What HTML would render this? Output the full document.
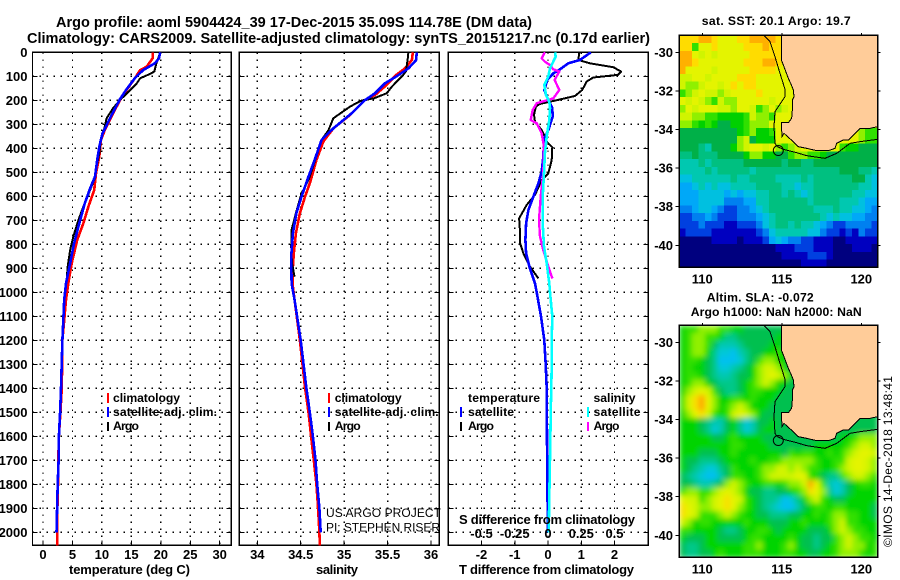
<!DOCTYPE html>
<html>
<head>
<meta charset="utf-8">
<title>Argo profile 5904424_39</title>
<style>
html,body{margin:0;padding:0;background:#fff;}
svg{display:block;font-family:"Liberation Sans",sans-serif;}
text{fill:#000;}
.b{font-weight:bold;font-size:13px;}
.l{font-weight:bold;font-size:12.2px;}
.t{font-weight:bold;font-size:14.5px;}
.r{font-size:12px;}
</style>
</head>
<body>
<svg id="chart" xmlns="http://www.w3.org/2000/svg" width="900" height="580" viewBox="0 0 900 580">
<defs>
<clipPath id="clipP1"><rect x="32" y="52" width="200" height="494"/></clipPath>
<clipPath id="clipP2"><rect x="239" y="52" width="201" height="494"/></clipPath>
<clipPath id="clipP3"><rect x="448" y="52" width="201" height="494"/></clipPath>
<clipPath id="clipM1"><rect x="679" y="35" width="199" height="232"/></clipPath>
<clipPath id="clipM2"><rect x="679" y="325" width="199" height="232"/></clipPath>
<filter id="soft" x="-5%" y="-5%" width="110%" height="110%"><feGaussianBlur stdDeviation="2.6" edgeMode="duplicate"/></filter>
</defs>

<text class="t" x="56" y="27" textLength="476" lengthAdjust="spacing">Argo profile: aoml 5904424_39 17-Dec-2015 35.09S 114.78E (DM data)</text>
<text class="t" x="27" y="43" textLength="623" lengthAdjust="spacing">Climatology: CARS2009. Satellite-adjusted climatology: synTS_20151217.nc (0.17d earlier)</text>

<g id="p1"></g>
<g id="p2"></g>
<g id="p3"></g>
<g id="m1"></g>
<g id="m2"></g>

<text class="b" x="69" y="574" textLength="121" lengthAdjust="spacing">temperature (deg C)</text>
<text class="b" x="316" y="574" textLength="42" lengthAdjust="spacing">salinity</text>
<text class="b" x="459" y="574" textLength="175" lengthAdjust="spacing">T difference from climatology</text>
<text class="b" x="459" y="524" textLength="176" lengthAdjust="spacing">S difference from climatology</text>

<g>
<rect x="107" y="393" width="2" height="10" fill="#f00"/>
<text class="l" x="113" y="402" textLength="67" lengthAdjust="spacing">climatology</text>
<rect x="107" y="407" width="2" height="10" fill="#00f"/>
<text class="l" x="113" y="416" textLength="104" lengthAdjust="spacing">satellite-adj. clim.</text>
<rect x="107" y="422" width="2" height="9" fill="#000"/>
<text class="l" x="113" y="430" textLength="26" lengthAdjust="spacing">Argo</text>
</g>
<g>
<rect x="328" y="393" width="2" height="10" fill="#f00"/>
<text class="l" x="334.7" y="402" textLength="67" lengthAdjust="spacing">climatology</text>
<rect x="328" y="407" width="2" height="10" fill="#00f"/>
<text class="l" x="334.7" y="416" textLength="104" lengthAdjust="spacing">satellite-adj. clim.</text>
<rect x="328" y="422" width="2" height="9" fill="#000"/>
<text class="l" x="334.7" y="430" textLength="26" lengthAdjust="spacing">Argo</text>
</g>
<g>
<text class="l" x="468" y="402" textLength="72" lengthAdjust="spacing">temperature</text>
<rect x="460" y="407" width="2" height="10" fill="#00f"/>
<text class="l" x="468" y="416" textLength="46" lengthAdjust="spacing">satellite</text>
<rect x="460" y="422" width="2" height="9" fill="#000"/>
<text class="l" x="468" y="430" textLength="26" lengthAdjust="spacing">Argo</text>
<text class="l" x="593.5" y="402" textLength="42" lengthAdjust="spacing">salinity</text>
<rect x="587" y="407" width="2" height="10" fill="#0ff"/>
<text class="l" x="593.5" y="416" textLength="47" lengthAdjust="spacing">satellite</text>
<rect x="587" y="422" width="2" height="9" fill="#f0f"/>
<text class="l" x="593.5" y="430" textLength="26" lengthAdjust="spacing">Argo</text>
</g>

<text class="r" x="326" y="517" textLength="115" lengthAdjust="spacing">US ARGO PROJECT</text>
<text class="r" x="326" y="531.5" textLength="114" lengthAdjust="spacing">PI: STEPHEN RISER</text>

<text class="l" x="701.7" y="25" textLength="149" lengthAdjust="spacing">sat. SST: 20.1 Argo: 19.7</text>
<text class="l" x="706.7" y="301.5" textLength="107" lengthAdjust="spacing">Altim. SLA: -0.072</text>
<text class="l" x="690.7" y="316" textLength="171" lengthAdjust="spacing">Argo h1000: NaN h2000: NaN</text>
<text class="r" transform="translate(892,547) rotate(-90)" textLength="171" lengthAdjust="spacing">©IMOS 14-Dec-2018 13:48:41</text>
</svg>

<script>
// ---- axis tick values ----
const depthTicks = [0,100,200,300,400,500,600,700,800,900,1000,1100,1200,1300,1400,1500,1600,1700,1800,1900,2000];
const tempTicks = [0,5,10,15,20,25,30];
const salTicks = [34,34.5,35,35.5,36];
const tDiffTicks = [-2,-1,0,1,2];
const sDiffTicks = [-0.5,-0.25,0,0.25,0.5];
const sDiffLabels = ['-0.5','-0.25','0','0.25','0.5'];
const lonTicks = [110,115,120];
const latTicks = [-30,-32,-34,-36,-38,-40];
const argoLon = 114.78;
const argoLat = -35.09;

// ---- temperature profiles ----
const tempClimDepth = [0,25,60,74,108,157,198,254,324,365,434,504,574,643,713,782,879,963,1032,1200,1400,1500,1600,1700,1800,1900,2000,2055];
const tempClimValue = [18.6,18.6,17.6,16.5,15.6,14.2,13.1,11.9,10.5,9.85,9.56,9.0,8.7,7.7,6.85,5.8,4.87,4.3,3.9,3.3,3.2,2.95,2.7,2.6,2.55,2.45,2.43,2.43];
const tempArgoDepth = [0,50,80,90,108,130,165,198,233,275,317,365,420,476,525,574,643,700,768,824,893,950];
const tempArgoValue = [19.9,19.2,18.9,18.2,16.5,15.9,14.5,13.1,11.9,10.8,10.4,9.85,9.56,9.1,8.8,7.99,6.85,6.0,5.15,4.6,4.2,4.0];
const tempSatDepth = [0,25,46,74,108,157,198,261,338,393,449,518,567,629,700,797,880,963,1032,1200,1400,1500,1600,1700,1800,1900,2000];
const tempSatValue = [19.9,19.7,19.0,17,15.6,14.1,13,11.66,10.1,9.56,9.2,8.83,8,7.1,6.3,5.26,4.6,3.9,3.6,3.3,3.05,2.9,2.7,2.65,2.5,2.4,2.3];

// ---- salinity profiles ----
const salClimDepth = [0,32,67,94,136,178,199,261,317,372,449,540,601,670,754,838,893,976,1032,1200,1400,1500,1600,1700,1800,1900,2000,2055];
const salClimValue = [35.79,35.78,35.70,35.60,35.49,35.355,35.24,35.07,34.875,34.76,34.68,34.61,34.55,34.49,34.445,34.42,34.41,34.41,34.43,34.49,34.55,34.59,34.62,34.65,34.68,34.70,34.715,34.72];
const salArgoDepth = [0,32,80,94,143,171,192,201,226,275,324,365,434,532,587,670,740,810,879,935];
const salArgoValue = [35.74,35.73,35.71,35.68,35.55,35.49,35.34,35.20,35.07,34.875,34.82,34.74,34.68,34.59,34.51,34.445,34.395,34.39,34.40,34.43];
const salSatDepth = [0,32,67,101,129,171,199,254,317,365,449,518,601,670,754,851,963,1032,1200,1400,1500,1600,1700,1800,1900,2000];
const salSatValue = [35.835,35.83,35.74,35.60,35.47,35.355,35.24,35.086,34.875,34.74,34.66,34.59,34.51,34.45,34.41,34.39,34.395,34.43,34.50,34.565,34.605,34.64,34.67,34.69,34.715,34.73];

// ---- difference profiles ----
const dTArgoDepth = [0,32,46,62,80,94,105,122,157,182,203,215,226,260,289,324,351,372,396,449,504,532,594,636,692,754,796,838,893,942];
const dTArgoValue = [0.94,0.91,1.26,1.96,2.2,2.1,1.36,1.16,1.03,0.81,0.16,-0.24,-0.36,-0.42,-0.39,-0.19,-0.09,-0.04,0.13,0.11,0.01,-0.19,-0.39,-0.64,-0.87,-0.84,-0.84,-0.74,-0.54,-0.29];
const dTSatDepth = [0,32,46,71,88,115,157,199,233,268,324,365,435,497,546,601,657,713,782,838,893,963,1000,1100,1200,1300,1400,1600,1800,2000];
const dTSatValue = [1.29,0.96,0.61,0.36,0.16,-0.02,-0.11,0.01,0.13,0.14,0.01,-0.12,-0.14,-0.19,-0.29,-0.44,-0.59,-0.66,-0.68,-0.66,-0.56,-0.39,-0.34,-0.21,-0.11,-0.07,-0.04,-0.03,-0.02,0];
const dSArgoDepth = [0,25,39,53,71,80,115,157,192,212,240,282,296,337,393,504,601,699,768,824,893,942];
const dSArgoValue = [-0.023,-0.048,-0.023,0.015,0.04,0.085,0.05,0.085,0.04,-0.085,-0.115,-0.13,-0.085,-0.048,-0.03,-0.035,-0.055,-0.068,-0.06,-0.035,0.0025,0.033];
const dSSatDepth = [0,18,67,101,136,178,205,233,282,351,421,504,601,713,810,879,963,1000,1100,1200,1300,1400,1500,1600,1900,2000];
const dSSatValue = [0.053,0.058,0.015,0.0025,-0.028,-0.015,0.01,0.015,0.01,-0.01,-0.023,-0.03,-0.04,-0.04,-0.03,-0.01,0.01,0.015,0.032,0.028,0.028,0.025,0.02,0.018,0.008,0.005];

// ---- map fields: one hex digit per 0.4 deg cell, north to south ----
const sstPalette = ['#00007f','#0000c0','#0040e0','#0080f0','#00a8f8','#00c0e0','#00c8b0','#00c080','#00b048','#00d000','#30e000','#90f000','#d0f400','#e4f400','#ffdc00','#ffb000'];
const slaPalette = ['#00007f','#0000c0','#0040e0','#0080f0','#00c0f0','#00c8d8','#00c8b0','#00c888','#00c050','#00d400','#30e000','#90f000','#d0f400','#e4f400','#f8e000','#ffa800'];
const sstRows = [
"eeeffedddeeffffeee","eeaddeddddeeefeed","ffdcdcdddddeeeeed","ffedddddddeeeffed","fddddcdddddeeeedd",
"ccddcddddeeedddddd","cbbcddcdedeedddddd","abcdccbcddddeddddddd","dcdcbacbbdddddcddddd","bdcdddccbddcabdbcdd",
"ccbbaa9999acbbadddaa","bba9a98899abbbdddcca","8888888889ab99adddddddddddddbaa","888888888bc8999dddddddddddddbaa99",
"888768889bcddcdbabcdddddda998888","77877788889bb9988abbaa988888888",
"6667677777888888788778888888888","6666767777767777777777777888776","5566666676677776666767777778865",
"4456565566667777665667777777665","4445555454556677676567777776655","4445555333446677777767777666544",
"3345543223345677777776667665543","2233432223334567777777656554433","2223222112223567767665432233332",
"1222211111112356666655322121322","0000011110111245433221110011111","0000000000000001112221110001110",
"0000000000000000111122210000000","0000000000000000000111100000000"];
const slaRows = [
"9aabbbaa9988888","9abbaa97788888899","9abba86667888899","9abb97554678899a9","9aa987444578abb99",
"9a9987556789bccb98","9aa987667889bcdcb98","9abb9877789abcb998","9bcdca87789aa99988","acefdb99aa9a999888",
"acefdb9abcb999888","9bdeca9acdcb98888","99987668975688988","99987568975689988",
"99999889a999988888888888899abbb","99999999aa9999888888899999abccb","99988899a99999998a9aa99a9abcddc",
"98877789999a99aabbbbba99aacddcb","98765578a999abbccbcbaa99abcddcb","87654468aa99abccccdda9877abccba",
"8876678bcba99aa9abbcfda65689aa9","abbaabcdcb98877889abedb75689999","dccabcdedca987764579bca98899999",
"edcbbcdedba9876544689aa9aa99998","edcaaabcba99887778899a9abbaa998","cb9aa99999a99988899a999abcaa999",
"aa9999877899aa9899998889bcbaa99","98889988889aa9999a988788abcbaa9","877899999 9aab999ab988789abcbb9a".replace(' ',''),"877889a999aaa999aa998899abbba9a"];

// ---- axis functions ----
const yD = d => 52.3 + d * 0.24;
const xTemp = v => 43 + v * 5.89;
const xSal = v => 257.3 + (v - 34) * 86.85;
const xDT = v => 548 + v * 33.25;
const xDS = v => 548 + v * 133;
const xLon = v => 702.3 + (v - 110) * 15.9;
const yLat1 = v => 52.3 + (-30 - v) * 19.3;
const yLat2 = v => 342.3 + (-30 - v) * 19.3;

const NS = 'http://www.w3.org/2000/svg';
function mk(tag, attrs, parent){
  const el = document.createElementNS(NS, tag);
  for (const k in attrs) el.setAttribute(k, attrs[k]);
  parent.appendChild(el);
  return el;
}

function drawPanel(parentId, x0, x1, clipId, ticks, xf, tickLabels){
  const p = document.getElementById(parentId);
  for (const d of depthTicks){
    const g = mk('line',{x1:x0,x2:x1,y1:yD(d),y2:yD(d),stroke:'#000','stroke-width':1.4,'stroke-dasharray':'1.5 5.5','shape-rendering':'crispEdges'},p);
    
    
    const t = mk('line',{x1:x0,x2:x0+5,y1:yD(d),y2:yD(d),stroke:'#000','stroke-width':1,'shape-rendering':'crispEdges'},p);
    
    
    const tr = mk('line',{x1:x1-5,x2:x1,y1:yD(d),y2:yD(d),stroke:'#000','stroke-width':1,'shape-rendering':'crispEdges'},p);
    
    
  }
  ticks.forEach((v,i)=>{
    const x = xf(v);
    const g = mk('line',{x1:x,x2:x,y1:52.3,y2:545.3,stroke:'#000','stroke-width':1.4,'stroke-dasharray':'1.5 5.5','shape-rendering':'crispEdges'},p);
    
    
    const t = mk('line',{x1:x,x2:x,y1:540.3,y2:545.3,stroke:'#000','stroke-width':1,'shape-rendering':'crispEdges'},p);
    
    
    const l = mk('text',{x:x,y:559,'text-anchor':'middle',class:'b'},p);
    
    
    l.textContent = tickLabels[i];
  });
  const box = mk('rect',{x:x0,y:52.3,width:x1-x0,height:493,fill:'none',stroke:'#000','stroke-width':1.4,'shape-rendering':'crispEdges'},p);
  
  
  const c = mk('g',{'clip-path':'url(#'+clipId+')'},p);
  
  
  return c;
}
function profile(group, depths, values, xf, color, width){
  const pts = depths.map((d,i)=> xf(values[i]).toFixed(1)+','+yD(d).toFixed(1)).join(' ');
  return mk('polyline',{points:pts,fill:'none',stroke:color,'stroke-width':width,'stroke-linejoin':'round','shape-rendering':'crispEdges'},group);
}

// temperature panel
const g1 = drawPanel('p1',32.5,231.3,'clipP1',tempTicks,xTemp,tempTicks.map(String));
let s;
s = profile(g1,tempClimDepth,tempClimValue,xTemp,'#f00',2.6);


s = profile(g1,tempArgoDepth,tempArgoValue,xTemp,'#000',2);


s = profile(g1,tempSatDepth,tempSatValue,xTemp,'#00f',2.6);



// depth labels
const p1 = document.getElementById('p1');
for (const d of depthTicks){
  const l = mk('text',{x:27.5,y:yD(d)+4.6,'text-anchor':'end',class:'b'},p1);
  
  
  l.textContent = d;
}

// salinity panel
const g2 = drawPanel('p2',239.3,439.3,'clipP2',salTicks,xSal,salTicks.map(String));
s = profile(g2,salClimDepth,salClimValue,xSal,'#f00',2.6);


s = profile(g2,salArgoDepth,salArgoValue,xSal,'#000',2);


s = profile(g2,salSatDepth,salSatValue,xSal,'#00f',2.6);



// difference panel
const g3 = drawPanel('p3',448.3,648.3,'clipP3',tDiffTicks,xDT,tDiffTicks.map(String));
const p3 = document.getElementById('p3');
sDiffTicks.forEach((v,i)=>{
  const l = mk('text',{x:xDS(v),y:538,'text-anchor':'middle',class:'b'},p3);
  
  
  l.textContent = sDiffLabels[i];
});
s = profile(g3,dTArgoDepth,dTArgoValue,xDT,'#000',2);


s = profile(g3,dTSatDepth,dTSatValue,xDT,'#00f',2.6);


s = profile(g3,dSArgoDepth,dSArgoValue,xDS,'#f0f',2.4);


s = profile(g3,dSSatDepth,dSSatValue,xDS,'#0ff',2.6);



// maps
const coastLand = "364,106 364,180 372,200 385,235 392,250 400,270 402,290 397,300 397,330 395,355 385,368 364,368 366,410 372,400 385,412 400,425 415,440 440,445 470,452 505,452 525,445 530,430 550,420 565,420 580,405 600,385 630,385 653,380 653,106";
const shelfLine = "312,106 330,125 345,170 360,220 375,268 375,290 345,335 342,380 345,430 352,440 370,448 410,458 440,467 495,475 530,460 570,430 600,425 653,418";

function drawMap(parentId, yTop, clipId, rows, padChar, yLat, soft, palette){
  const m = document.getElementById(parentId);
  const x0 = 679.3, w = 198.4, h = 232;
  const nCols = 31, nRows = rows.length;
  const cw = w / nCols, ch = h / nRows;
  const outer = mk('g',{'clip-path':'url(#'+clipId+')'},m);
  
  
  const cells = mk('g',soft?{filter:'url(#soft)'}:{},outer);
  
  
  rows.forEach((row,r)=>{
    const full = row.padEnd(nCols,padChar);
    for (let c=0;c<nCols;c++){
      const cell = mk('rect',{x:(x0+c*cw).toFixed(2),y:(yTop+r*ch).toFixed(2),width:(cw+0.5).toFixed(2),height:(ch+0.5).toFixed(2),fill:palette[parseInt(full[c],16)],'shape-rendering':'crispEdges'},cells);
      
      
    }
  });
  const geo = mk('g',{transform:'translate(660,'+(yTop-35.33)+') scale(0.33333)'},outer);
  
  
  const land = mk('polygon',{points:coastLand,fill:'#ffcc99',stroke:'#000','stroke-width':3,'shape-rendering':'crispEdges'},geo);
  
  
  const shelf = mk('polyline',{points:shelfLine,fill:'none',stroke:'#000','stroke-width':3,'shape-rendering':'crispEdges'},geo);
  
  
  const dot = mk('circle',{cx:xLon(argoLon),cy:yLat(argoLat),r:5,fill:'none',stroke:'#000','stroke-width':1},m);
  
  
  const frame = mk('rect',{x:x0,y:yTop,width:w,height:h,fill:'none',stroke:'#000','stroke-width':1.3,'shape-rendering':'crispEdges'},m);
  
  
  for (const v of lonTicks){
    const t = mk('line',{x1:xLon(v),x2:xLon(v),y1:yTop-2.5,y2:yTop,stroke:'#000','stroke-width':1,'shape-rendering':'crispEdges'},m);
    
    
    const l = mk('text',{x:xLon(v),y:yTop+248,'text-anchor':'middle',class:'b'},m);
    
    
    l.textContent = v;
  }
  for (const v of latTicks){
    const t = mk('line',{x1:x0+w,x2:x0+w+3,y1:yLat(v),y2:yLat(v),stroke:'#000','stroke-width':1,'shape-rendering':'crispEdges'},m);
    
    
    const tl = mk('line',{x1:x0-4,x2:x0,y1:yLat(v),y2:yLat(v),stroke:'#000','stroke-width':1,'shape-rendering':'crispEdges'},m);
    
    
    const l = mk('text',{x:673,y:yLat(v)+4.5,'text-anchor':'end',class:'b'},m);
    
    
    l.textContent = v;
  }
}
drawMap('m1',35.33,'clipM1',sstRows,'d',yLat1,false,sstPalette);
drawMap('m2',325.33,'clipM2',slaRows,'8',yLat2,true,slaPalette);
</script>
</body>
</html>
